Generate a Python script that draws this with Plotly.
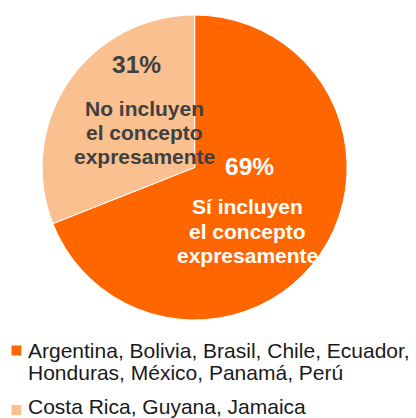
import plotly.graph_objects as go

# Data
labels = ["Sí incluyen el concepto expresamente", "No incluyen el concepto expresamente"]
values = [69, 31]
colors = ["#FF6600", "#FAC090"]
pct_text = ["69%", "31%"]
slice_lines = [["Sí incluyen", "el concepto", "expresamente"],
               ["No incluyen", "el concepto", "expresamente"]]
legend_lines = [["Argentina, Bolivia, Brasil, Chile, Ecuador,", "Honduras, México, Panamá, Perú"],
                ["Costa Rica, Guyana, Jamaica"]]

W, H = 416, 418
FONT = "Liberation Sans, Arial, sans-serif"

def px(x):
    return x / W

def py(y):
    return 1 - y / H

fig = go.Figure()
fig.add_trace(go.Pie(
    labels=labels,
    values=values,
    sort=False,
    direction="clockwise",
    rotation=0,
    marker=dict(colors=colors, line=dict(color="white", width=1)),
    textinfo="none",
    hoverinfo="label+percent",
    showlegend=False,
    domain=dict(x=[px(42), px(347.3)], y=[py(320), py(15)]),
))

annotations = []

def add_text(text, xc, baseline, size, color, bold=True, xanchor="center"):
    t = f"<b>{text}</b>" if bold else text
    annotations.append(dict(
        text=t, x=px(xc), y=py(baseline - 0.35 * size),
        xref="paper", yref="paper", xanchor=xanchor, yanchor="middle",
        showarrow=False, font=dict(family=FONT, size=size, color=color),
    ))

# Orange (69%) slice texts
add_text(pct_text[0], 249.5, 175, 24.5, "white")
for line, b in zip(slice_lines[0], [214, 238.5, 263]):
    add_text(line, 247, b, 21, "white")

# Light (31%) slice texts
add_text(pct_text[1], 136, 72.7, 24.5, "#404040")
for line, b in zip(slice_lines[1], [116, 140, 164]):
    add_text(line, 144, b, 21, "#404040")

# Legend
shapes = []
square_tops = [345.5, 405]
legend_baselines = [[358, 379.7], [414]]
for i in range(len(legend_lines)):
    shapes.append(dict(
        type="rect", xref="paper", yref="paper",
        x0=px(11.5), x1=px(21.3), y0=py(square_tops[i] + 10), y1=py(square_tops[i]),
        fillcolor=colors[i], line=dict(width=0),
    ))
    for line, b in zip(legend_lines[i], legend_baselines[i]):
        add_text(line, 25.5, b, 21, "#1a1a1a", bold=False, xanchor="left")

fig.update_layout(
    width=W, height=H,
    margin=dict(l=0, r=0, t=0, b=0),
    paper_bgcolor="white",
    plot_bgcolor="white",
    showlegend=False,
    annotations=annotations,
    shapes=shapes,
)

fig.write_html("out.html")
